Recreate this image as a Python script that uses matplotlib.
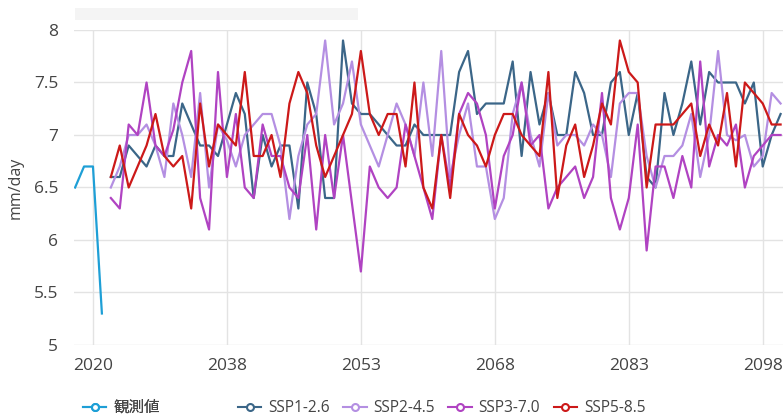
import numpy as np
import matplotlib
matplotlib.use('Agg')
import matplotlib.pyplot as plt
from matplotlib.lines import Line2D
from matplotlib.patches import Rectangle

plt.rcParams['font.family'] = ['Open Sans', 'Noto Sans CJK JP', 'DejaVu Sans']

# category axis: observed years, then projection years
obs_years = [2018, 2019, 2020, 2021]
proj_years = list(range(2025, 2101))
categories = obs_years + proj_years
tick_labels = ['2020', '2038', '2053', '2068', '2083', '2098']

observed = [6.5, 6.7, 6.7, 5.3]

ssp126 = [6.6, 6.6, 6.9, 6.8, 6.7, 6.9, 6.8, 6.8, 7.3, 7.1, 6.9, 6.9, 6.8, 7.1,
          7.4, 7.2, 6.4, 7.0, 6.7, 6.9, 6.9, 6.3, 7.5, 7.2, 6.4, 6.4, 7.9, 7.3,
          7.2, 7.2, 7.1, 7.0, 6.9, 6.9, 7.1, 7.0, 7.0, 7.0, 7.0, 7.6, 7.8, 7.2,
          7.3, 7.3, 7.3, 7.7, 6.8, 7.6, 7.1, 7.4, 7.0, 7.0, 7.6, 7.4, 7.0, 7.0,
          7.5, 7.6, 7.0, 7.4, 6.6, 6.5, 7.4, 7.0, 7.3, 7.7, 7.1, 7.6, 7.5, 7.5,
          7.5, 7.3, 7.5, 6.7, 7.0, 7.2]

ssp245 = [6.5, 6.7, 7.0, 7.0, 7.1, 6.9, 6.6, 7.3, 7.0, 6.6, 7.4, 6.5, 7.1, 6.95,
          6.7, 7.0, 7.1, 7.2, 7.2, 6.9, 6.2, 6.8, 7.1, 7.2, 7.9, 7.1, 7.3, 7.7,
          7.1, 6.9, 6.7, 7.0, 7.3, 7.1, 6.8, 7.5, 6.8, 7.8, 6.6, 7.0, 7.3, 6.7,
          6.7, 6.2, 6.4, 7.2, 7.5, 7.0, 6.7, 7.4, 6.9, 7.0, 7.0, 6.9, 7.1, 7.0,
          6.6, 7.3, 7.4, 7.4, 6.8, 6.5, 6.8, 6.8, 6.9, 7.2, 6.6, 7.0, 7.8, 7.0,
          6.95, 7.0, 6.7, 6.8, 7.4, 7.3]

ssp370 = [6.4, 6.3, 7.1, 7.0, 7.5, 6.9, 6.8, 7.05, 7.5, 7.8, 6.4, 6.1, 7.6, 6.6,
          7.2, 6.5, 6.4, 7.1, 6.8, 6.8, 6.5, 6.4, 7.0, 6.1, 7.0, 6.4, 7.0, 6.35,
          5.7, 6.7, 6.5, 6.4, 6.5, 7.1, 6.8, 6.5, 6.2, 7.0, 6.5, 7.2, 7.4, 7.3,
          7.0, 6.3, 6.8, 7.0, 7.5, 6.9, 7.0, 6.3, 6.5, 6.6, 6.7, 6.4, 6.6, 7.4,
          6.4, 6.1, 6.4, 7.1, 5.9, 6.7, 6.7, 6.4, 6.8, 6.5, 7.7, 6.7, 7.0, 6.9,
          7.1, 6.5, 6.8, 6.9, 7.0, 7.0]

ssp585 = [6.6, 6.9, 6.5, 6.7, 6.9, 7.2, 6.8, 6.7, 6.8, 6.3, 7.3, 6.7, 7.1, 7.0,
          6.9, 7.6, 6.8, 6.8, 7.0, 6.6, 7.3, 7.6, 7.4, 6.9, 6.6, 6.8, 7.0, 7.2,
          7.8, 7.2, 7.0, 7.2, 7.2, 6.7, 7.5, 6.5, 6.3, 7.0, 6.4, 7.2, 7.0, 6.9,
          6.7, 7.0, 7.2, 7.2, 7.0, 6.9, 6.8, 7.6, 6.4, 6.9, 7.1, 6.6, 6.9, 7.3,
          7.1, 7.9, 7.6, 7.5, 6.5, 7.1, 7.1, 7.1, 7.2, 7.3, 6.8, 7.1, 6.9, 7.4,
          6.7, 7.5, 7.4, 7.3, 7.1, 7.1]

c_obs = '#1E9FD6'
c_126 = '#3B6688'
c_245 = '#B48FE2'
c_370 = '#B043C2'
c_585 = '#CC1919'


def main():
    fig = plt.figure(figsize=(7.83, 4.19), dpi=100)
    ax = fig.add_axes([73.5 / 783, 74 / 419, 1 - 73.5 / 783, 315 / 419])

    # position of a year on the category axis, "2020" at 0
    base = categories.index(2020)
    x_obs = [categories.index(y) - base for y in obs_years]
    x_proj = [categories.index(y) - base for y in proj_years]

    lw = 1.6
    ax.plot(x_obs, observed, color=c_obs, lw=lw)
    ax.plot(x_proj, ssp126, color=c_126, lw=lw)
    ax.plot(x_proj, ssp245, color=c_245, lw=lw)
    ax.plot(x_proj, ssp370, color=c_370, lw=lw)
    ax.plot(x_proj, ssp585, color=c_585, lw=lw)

    ax.set_xlim(-2.18, 77.27)
    ax.set_ylim(5, 8)
    ticks = [categories.index(int(t)) - base for t in tick_labels]
    ax.set_xticks(ticks)
    ax.set_xticklabels(tick_labels)
    ax.set_yticks([5, 5.5, 6, 6.5, 7, 7.5, 8])
    ax.set_yticklabels(['5', '5.5', '6', '6.5', '7', '7.5', '8'])
    ax.tick_params(axis='both', length=0, labelsize=12.5, colors='#444444')
    ax.tick_params(axis='y', pad=11)
    ax.tick_params(axis='x', pad=9)
    ax.grid(True, color='#E3E3E3', lw=1)
    ax.set_axisbelow(True)
    for s in ax.spines.values():
        s.set_visible(False)
    fig.text(16 / 783, 1 - 188 / 419, 'mm/day', rotation=90, fontsize=11.5,
             color='#444444', ha='center', va='center')

    # placeholder title bar
    fig.patches.append(Rectangle((75 / 783, 1 - 20 / 419), 283 / 783, 12 / 419,
                                 transform=fig.transFigure, color='#F4F4F4', lw=0))

    def handle(c):
        return Line2D([], [], color=c, lw=1.5, marker='o', markersize=5,
                      markerfacecolor='white', markeredgewidth=1.5)

    leg_kw = dict(loc='center left', frameon=False, fontsize=11.2, borderpad=0,
                  borderaxespad=0, handlelength=1.5, handletextpad=0.45,
                  labelcolor='#444444')
    leg1 = fig.legend([handle(c_obs)], ['観測値'],
                      bbox_to_anchor=(83 / 783, 1 - 408 / 419), **leg_kw)
    fig.legend([handle(c_126), handle(c_245), handle(c_370), handle(c_585)],
               ['SSP1-2.6', 'SSP2-4.5', 'SSP3-7.0', 'SSP5-8.5'],
               ncol=4, columnspacing=0.85,
               bbox_to_anchor=(238 / 783, 1 - 408 / 419), **leg_kw)
    fig.add_artist(leg1)

    fig.savefig('out.png', dpi=100)


if __name__ == "__main__":
    main()
